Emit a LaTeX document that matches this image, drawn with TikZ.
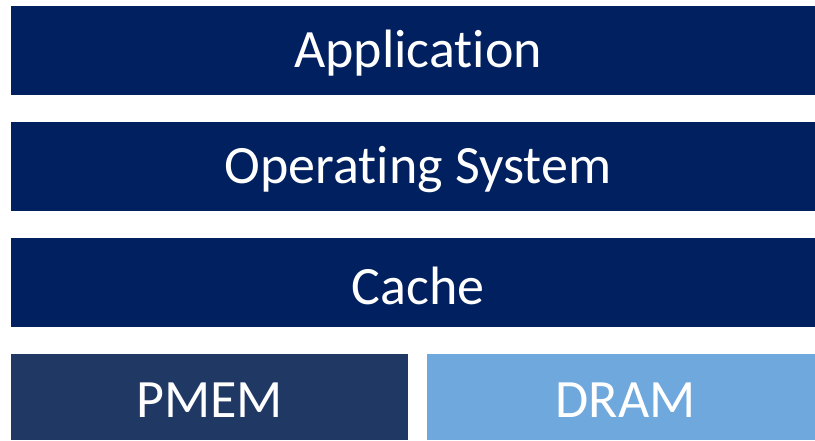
\documentclass[tikz,border=0pt]{standalone}
\usepackage{fontspec}
\setmainfont[Ligatures=NoCommon]{Carlito}
\definecolor{navy}{HTML}{002060}
\definecolor{pmem}{HTML}{203864}
\definecolor{dram}{HTML}{6FA8DC}
\begin{document}
\begin{tikzpicture}[x=1pt,y=-1pt,
  lbl/.style={text=white,inner sep=0pt,font=\fontsize{54}{60}\selectfont,yshift=-3pt}]
\useasboundingbox (0,0) rectangle (815,440);
\fill[navy] (11,6) rectangle (815,95);
\node[lbl] (app) at (418,50.5) {Application};
\fill[navy] (11,122) rectangle (815,211);
\node[lbl] (os) at (418,166.5) {Operating System};
\fill[navy] (11,238) rectangle (815,327);
\node[lbl] (cache) at (418,282.5) {Cache};
\fill[pmem] (11,354) rectangle (408,440);
\node[lbl] (pm) at (209.5,397) {PMEM};
\fill[dram] (427,354) rectangle (815,440);
\node[lbl] (dr) at (625.5,397) {DRAM};
\end{tikzpicture}
\end{document}
